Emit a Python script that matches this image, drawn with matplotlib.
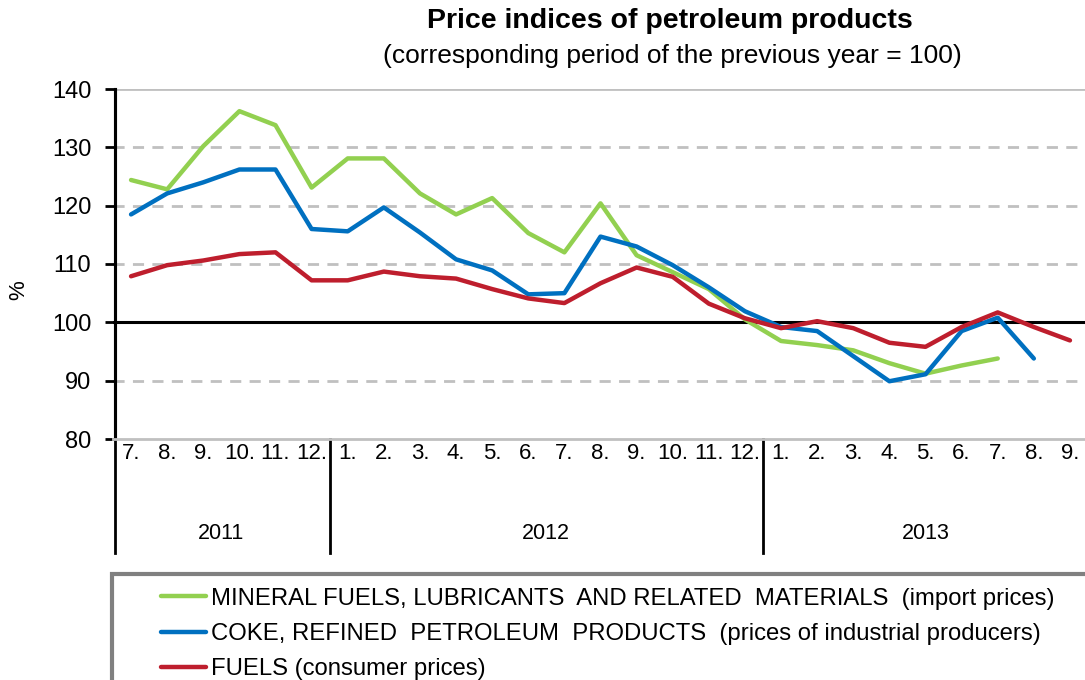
import matplotlib
matplotlib.use('Agg')
import matplotlib.pyplot as plt
from matplotlib.patches import Rectangle

plt.rcParams['font.family'] = ['Liberation Sans', 'DejaVu Sans']

months = ['7.', '8.', '9.', '10.', '11.', '12.',
          '1.', '2.', '3.', '4.', '5.', '6.', '7.', '8.', '9.', '10.', '11.', '12.',
          '1.', '2.', '3.', '4.', '5.', '6.', '7.', '8.', '9.']
years = ['2011', '2012', '2013']
year_start = [0, 6, 18]

mineral = [124.4, 122.8, 130.2, 136.2, 133.8, 123.1, 128.1, 128.1, 122.1, 118.5,
           121.3, 115.3, 112.0, 120.4, 111.5, 108.6, 105.7, 100.5,
           96.8, 96.1, 95.2, 93.0, 91.2, 92.6, 93.8]
coke = [118.5, 122.1, 124.0, 126.2, 126.2, 116.0, 115.6, 119.7, 115.4, 110.8,
        108.9, 104.8, 105.0, 114.7, 113.0, 109.8, 106.0, 101.9,
        99.2, 98.5, 94.2, 89.9, 91.1, 98.5, 100.8, 93.8]
fuels = [107.9, 109.8, 110.6, 111.7, 112.0, 107.2, 107.2, 108.7, 107.9, 107.5,
         105.7, 104.1, 103.3, 106.7, 109.4, 107.8, 103.2, 100.7,
         99.0, 100.2, 99.0, 96.5, 95.8, 99.2, 101.7, 99.2, 96.9]

labels = ['MINERAL FUELS, LUBRICANTS  AND RELATED  MATERIALS  (import prices)',
          'COKE, REFINED  PETROLEUM  PRODUCTS  (prices of industrial producers)',
          'FUELS (consumer prices)']
colors = ['#92d050', '#0070c0', '#be1e2d']

W, H = 1085, 680
fig = plt.figure(figsize=(W / 100, H / 100), dpi=100)
fig.patch.set_facecolor('white')

# axes in pixel layout: left 113, right 1088, top 89, bottom 439
ax = fig.add_axes([113 / W, (H - 439) / H, (1088 - 113) / W, 350 / H])
ax.set_xlim(-0.5, len(months) - 0.5)
ax.set_ylim(80, 140)

for y in [90, 110, 120, 130]:
    ax.axhline(y, color='#c0c0c0', lw=2, ls=(0, (4, 3)), zorder=1)
ax.axhline(140, color='#c0c0c0', lw=2, zorder=1)
ax.axhline(100, color='black', lw=2.2, zorder=2)

series = [mineral, coke, fuels]
handles = []
for vals, col, lab in zip(series, colors, labels):
    h, = ax.plot(range(len(vals)), vals, color=col, lw=3.2, solid_capstyle='round',
                 solid_joinstyle='round', label=lab, zorder=3)
    handles.append(h)

for s in ['top', 'right']:
    ax.spines[s].set_visible(False)
ax.spines['bottom'].set_color('#c0c0c0')
ax.spines['bottom'].set_linewidth(2)
ax.spines['left'].set_linewidth(2.2)
ax.spines['left'].set_position(('data', -0.45))

ax.set_yticks(range(80, 141, 10))
ax.tick_params(axis='y', labelsize=17, length=7, width=2, pad=10)
ax.set_xticks(range(len(months)))
ax.set_xticklabels(months, fontsize=16)
ax.tick_params(axis='x', length=0, pad=3)
fig.text(19 / W, 1 - 290 / H, '%', rotation=90, ha='center', va='center', fontsize=16)

# year separators and labels
trans = ax.get_xaxis_transform()
for x in [-0.45, 5.5, 17.5]:
    ax.plot([x, x], [0, -0.326], transform=trans, color='black', lw=2, clip_on=False)
ax.plot([-0.45, -0.45], [0, 1], transform=trans, color='black', lw=2.2, clip_on=False)
ends = year_start[1:] + [len(months)]
for yr, a, b in zip(years, year_start, ends):
    ax.text((a + b - 1) / 2, -0.27, yr, transform=trans, ha='center', va='center', fontsize=15.5)

fig.text(670 / W, 1 - 21 / H, 'Price indices of petroleum products',
         ha='center', va='center', fontsize=20.5, fontweight='bold')
fig.text(672 / W, 1 - 56 / H, '(corresponding period of the previous year = 100)',
         ha='center', va='center', fontsize=19)

# legend box
fig.patches.append(Rectangle((112 / W, -0.1), 1.2, (H - 574) / H + 0.1,
                             transform=fig.transFigure, fill=False,
                             edgecolor='#808080', lw=3))
fig.legend(handles=handles, loc='upper left', bbox_to_anchor=(151 / W, 1 - 578 / H),
           frameon=False, fontsize=17.2, handlelength=1.9, handletextpad=0.2,
           labelspacing=0.56, borderaxespad=0)

plt.savefig('out.png', dpi=100, facecolor='white')
